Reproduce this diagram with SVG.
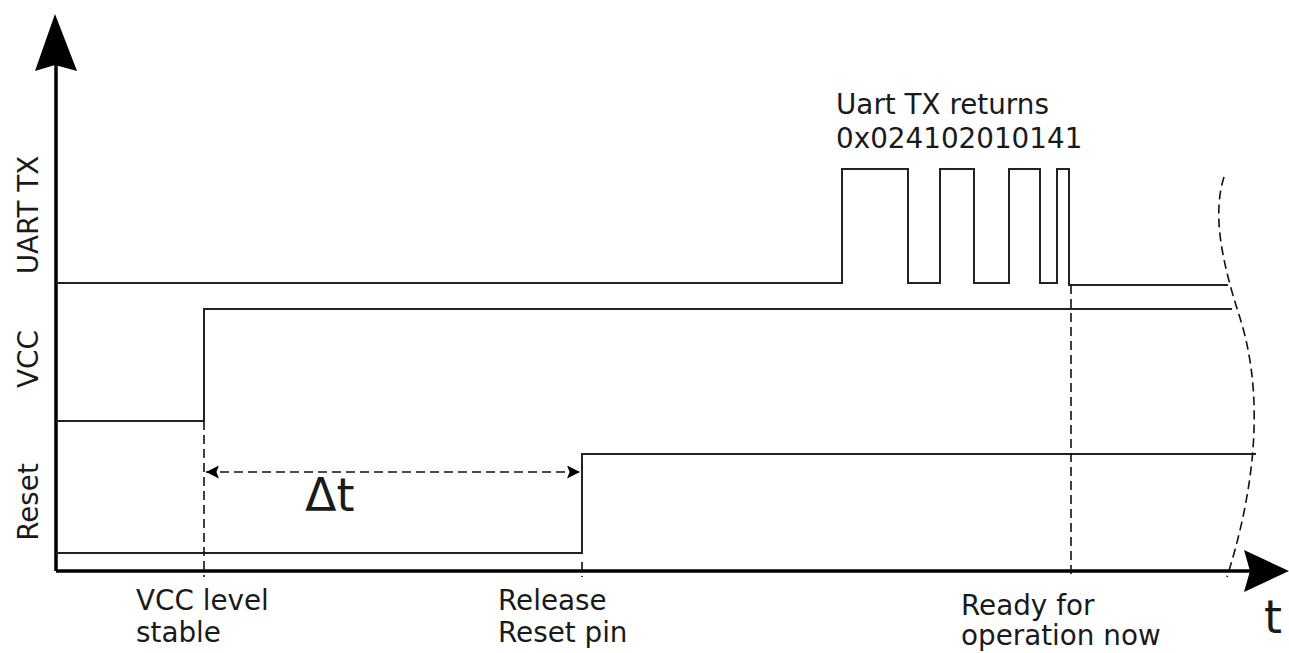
<svg xmlns="http://www.w3.org/2000/svg" width="1289" height="653" viewBox="0 0 1289 653">
<style>
text{font-family:"DejaVu Sans","Verdana",sans-serif;fill:#1a1a1a;font-size:27.8px}
text.big{font-size:46px}
.sig{fill:none;stroke:#222;stroke-width:2}
.axis{fill:none;stroke:#000;stroke-width:3.5}
.dash{fill:none;stroke:#111;stroke-width:1.6;stroke-dasharray:9,5}
</style>
<defs>
<marker id="ah" viewBox="0 0 10 10" refX="10" refY="5" markerWidth="18" markerHeight="13" markerUnits="userSpaceOnUse" orient="auto-start-reverse"><path d="M0,0 L10,5 L0,10 L2,5 Z" fill="#000"/></marker>
</defs>
<rect width="1289" height="653" fill="#fff"/>
<g id="axes">
<path class="axis" d="M56,571 V60"/>
<path d="M55,14 L77,71 L55,65 L35,71 Z" fill="#000"/>
<path class="axis" d="M56,571 H1250"/>
<path d="M1289,571 L1244,592 L1250,571 L1244,550 Z" fill="#000"/>
<text class="big" x="1264" y="633">t</text>
</g>
<g id="labels">
<text transform="translate(38,215) rotate(-90)" text-anchor="middle">UART TX</text>
<text transform="translate(38,359) rotate(-90)" text-anchor="middle">VCC</text>
<text transform="translate(38,502) rotate(-90)" text-anchor="middle">Reset</text>
</g>
<g id="uart">
<path class="sig" d="M56,283 H842 V169 H908 V283 H940 V169 H974 V283 H1009 V169 H1040 V283 H1057 V169 H1069 V285 H1228"/>
<text x="836" y="114">Uart TX returns</text>
<text x="836" y="148">0x024102010141</text>
</g>
<g id="vcc">
<path class="sig" d="M56,421 H204 V309 H1232"/>
</g>
<g id="reset">
<path class="sig" d="M56,553 H582 V454 H1256"/>
</g>
<g id="connectors">
<path class="dash" d="M204,421 V577"/>
<path class="dash" d="M582,562 V577"/>
<path class="dash" d="M1071,285 V577"/>
<path class="dash" d="M206,472 H580" marker-start="url(#ah)" marker-end="url(#ah)"/>
<path class="dash" d="M1224,177 C1212,215 1222,262 1240,318 C1258,375 1264,460 1227,577"/>
</g>
<g id="annotations">
<text class="big" x="305" y="511">Δt</text>
<text x="136" y="610">VCC level</text>
<text x="136" y="642">stable</text>
<text x="498" y="610">Release</text>
<text x="498" y="642">Reset pin</text>
<text x="961" y="615">Ready for</text>
<text x="961" y="645">operation now</text>
</g>
</svg>
